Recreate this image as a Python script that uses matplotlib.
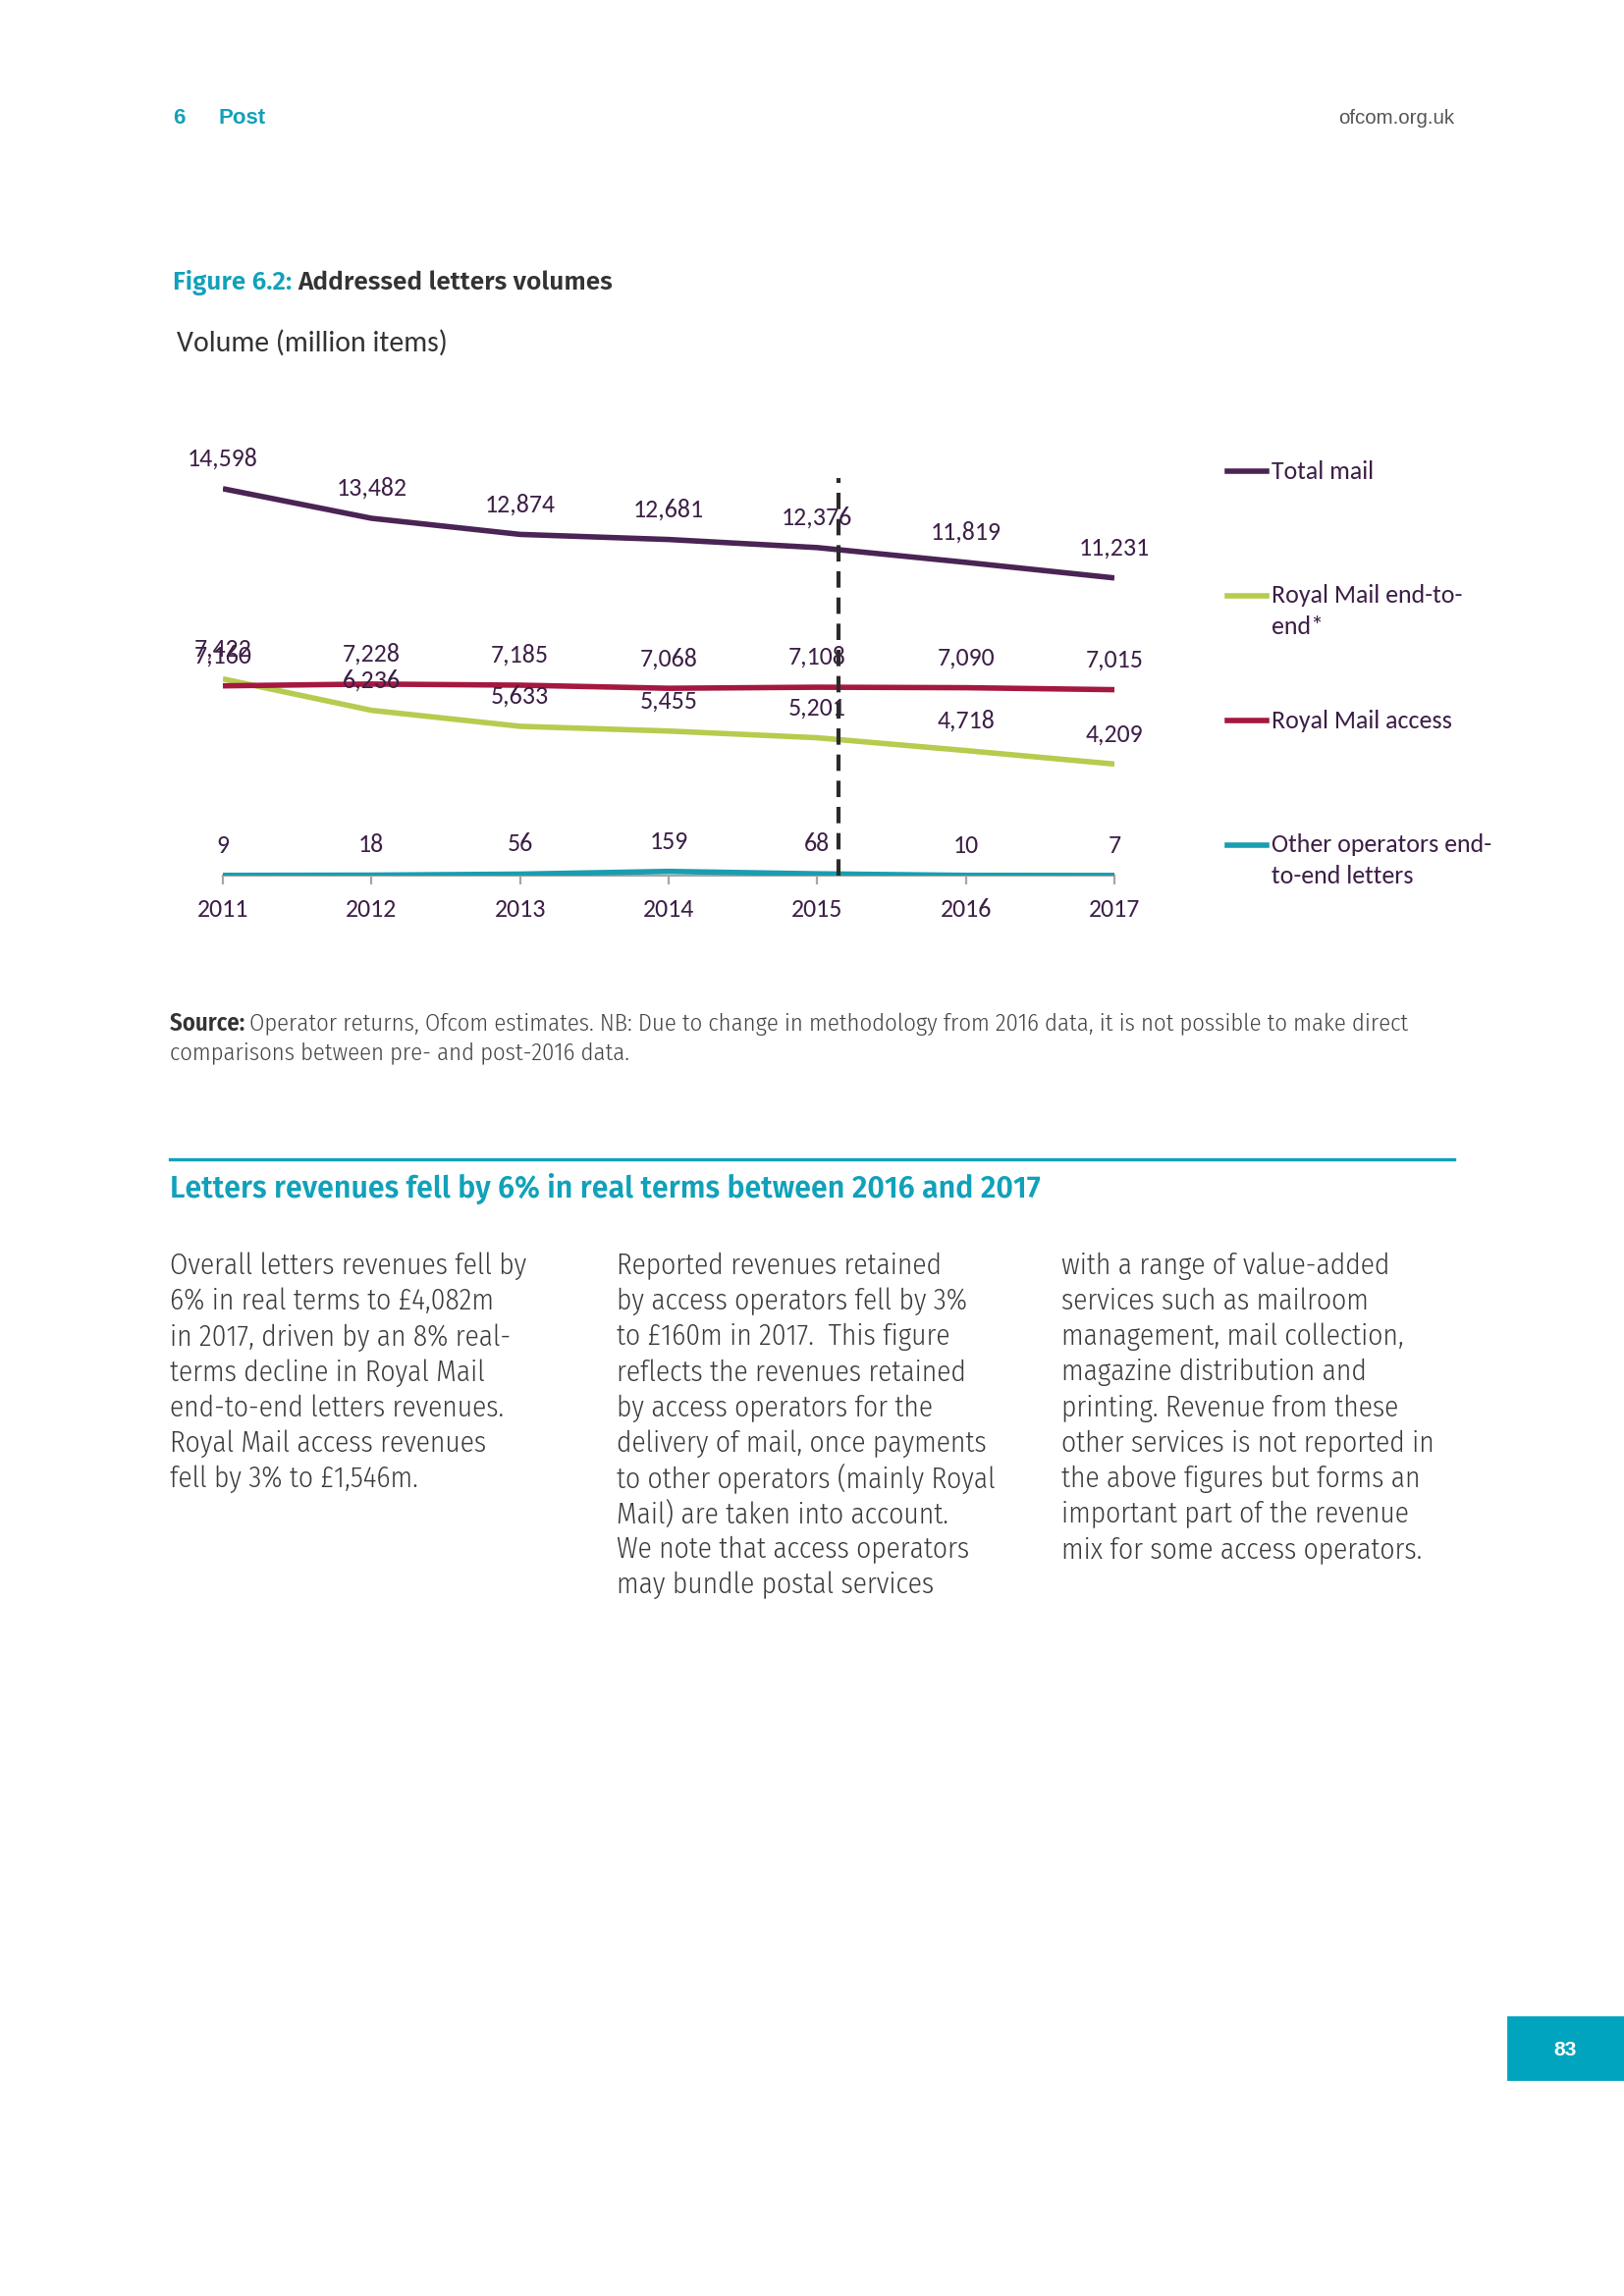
import matplotlib
matplotlib.use("Agg")
import matplotlib.pyplot as plt
from matplotlib.lines import Line2D

W, H = 1654, 2339
DPI = 200

years = [2011, 2012, 2013, 2014, 2015, 2016, 2017]
total_mail = [14598, 13482, 12874, 12681, 12376, 11819, 11231]
rm_end_to_end = [7422, 6236, 5633, 5455, 5201, 4718, 4209]
rm_access = [7160, 7228, 7185, 7068, 7108, 7090, 7015]
other_end_to_end = [9, 18, 56, 159, 68, 10, 7]

series_names = [["Total mail"], ["Royal Mail end-to-", "end*"], ["Royal Mail access"],
                ["Other operators end-", "to-end letters"]]
series_colors = ["#4A2454", "#B5CC4E", "#A5183F", "#1A9DB0"]

TEAL = "#11A1BA"
LABEL = "#3C1E46"
CHART_FONT = "Carlito"
BODY_FONT = "Fira Sans Condensed"


def fx(x):
    return x / W


def fy(y):
    return 1 - y / H


fig = plt.figure(figsize=(W / DPI, H / DPI), dpi=DPI)
renderer = fig.canvas.get_renderer()


def width_px(artists):
    boxes = [a.get_window_extent(renderer) for a in artists]
    return max(b.x1 for b in boxes) - min(b.x0 for b in boxes)


def fit(artists, target):
    # scale font so the text run spans the same width as in the reference
    k = target / width_px(artists)
    for a in artists:
        a.set_fontsize(a.get_fontsize() * k)
    return k


def chain(a, b, gap=0):
    b.set_x((a.get_window_extent(renderer).x1 + gap) / W)


# page header
fig.text(fx(176), fy(120), "6", color=TEAL, fontsize=8, fontweight="bold",
         family="Liberation Sans", va="center")
fig.text(fx(222), fy(120), "Post", color=TEAL, fontsize=8, fontweight="bold",
         family="Liberation Sans", va="center")
fig.text(fx(1481), fy(120), "ofcom.org.uk", color="#555555", fontsize=7.4,
         family="Liberation Sans", va="center", ha="right")

# figure title
t1 = fig.text(fx(176), fy(288), "Figure 6.2: ", color=TEAL, fontsize=9,
              fontweight=600, family="Fira Sans", va="center")
t2 = fig.text(fx(176), fy(288), "Addressed letters volumes", color="#333333",
              fontsize=9, fontweight=600, family="Fira Sans", va="center")
chain(t1, t2)
fit([t1, t2], 449)
chain(t1, t2)

v = fig.text(fx(180), fy(349), "Volume (million items)", color="#333333",
             fontsize=10, family=CHART_FONT, va="center")
fit([v], 276)

# chart
ymax = 16000
y0_px, per1000 = 892, 27.0
top_px = y0_px - ymax / 1000 * per1000
ax = fig.add_axes([fx(227), fy(y0_px), (1135 - 227) / W, (y0_px - top_px) / H])

for vals, col in [(total_mail, series_colors[0]), (rm_end_to_end, series_colors[1]),
                  (rm_access, series_colors[2]), (other_end_to_end, series_colors[3])]:
    ax.plot(years, vals, color=col, lw=2.0, solid_capstyle="butt", zorder=3)
    for x, val in zip(years, vals):
        ax.annotate(f"{val:,}", (x, val), xytext=(0, 11), textcoords="offset points",
                    ha="center", va="center", fontsize=9.3, color=LABEL,
                    family=CHART_FONT, annotation_clip=False, zorder=4)

# methodology break between 2015 and 2016
ax.vlines(2015.14, 0, 15000, colors="#2B2B2B", linestyles=(0, (4.0, 2.4)),
          lw=1.5, zorder=5)

ax.set_xlim(2011, 2017)
ax.set_ylim(0, ymax)
for s in ["top", "right", "left"]:
    ax.spines[s].set_visible(False)
ax.spines["bottom"].set_color("#A6A6A6")
ax.spines["bottom"].set_linewidth(0.8)
ax.set_yticks([])
ax.set_xticks(years)
ax.set_xticklabels([str(y) for y in years], fontsize=9.3, color=LABEL,
                   family=CHART_FONT)
ax.tick_params(axis="x", length=3.2, width=0.8, color="#A6A6A6", pad=5)
ax.patch.set_alpha(0)

# legend
leg_rows = [480, 607, 734, 861]
for lines, col, yy in zip(series_names, series_colors, leg_rows):
    fig.add_artist(Line2D([fx(1250), fx(1290)], [fy(yy), fy(yy)], color=col,
                          lw=2.0, transform=fig.transFigure))
    for i, line in enumerate(lines):
        fig.text(fx(1295), fy(yy + i * 31), line, color=LABEL, fontsize=9.3,
                 family=CHART_FONT, va="center", ha="left")

# source note
s1 = fig.text(fx(173), fy(1043), "Source: ", color="#333333", fontsize=8,
              fontweight=600, family=BODY_FONT, va="center")
s2 = fig.text(fx(173), fy(1043),
              "Operator returns, Ofcom estimates. NB: Due to change in methodology from 2016 data, "
              "it is not possible to make direct", color="#444444", fontsize=8,
              fontweight=300, family=BODY_FONT, va="center")
s3 = fig.text(fx(173), fy(1072), "comparisons between pre- and post-2016 data.",
              color="#444444", fontsize=8, fontweight=300, family=BODY_FONT, va="center")
chain(s1, s2)
k = fit([s1, s2], 1263)
s3.set_fontsize(8 * k)
chain(s1, s2)

# section rule + heading
fig.add_artist(Line2D([fx(173), fx(1481)], [fy(1181), fy(1181)], color=TEAL, lw=1.2,
                      transform=fig.transFigure))
hd = fig.text(fx(173), fy(1211),
              "Letters revenues fell by 6% in real terms between 2016 and 2017",
              color=TEAL, fontsize=10, fontweight=600, family="Fira Sans", va="center")
fit([hd], 887)

col1 = ["Overall letters revenues fell by", "6% in real terms to £4,082m",
        "in 2017, driven by an 8% real-", "terms decline in Royal Mail",
        "end-to-end letters revenues.", "Royal Mail access revenues",
        "fell by 3% to £1,546m."]
col2 = ["Reported revenues retained", "by access operators fell by 3%",
        "to £160m in 2017.  This figure", "reflects the revenues retained",
        "by access operators for the", "delivery of mail, once payments",
        "to other operators (mainly Royal", "Mail) are taken into account.",
        "We note that access operators", "may bundle postal services"]
col3 = ["with a range of value-added", "services such as mailroom",
        "management, mail collection,", "magazine distribution and",
        "printing. Revenue from these", "other services is not reported in",
        "the above figures but forms an", "important part of the revenue",
        "mix for some access operators."]
body = []
for x0, lines in [(173, col1), (628, col2), (1081, col3)]:
    for i, line in enumerate(lines):
        body.append(fig.text(fx(x0), fy(1290 + i * 36.1), line, color="#3A3A3A",
                             fontsize=10, fontweight=300, family=BODY_FONT,
                             va="center"))
k = 365 / width_px([body[0]])
for b in body:
    b.set_fontsize(10 * k)

# page number box
fig.patches.append(plt.Rectangle((fx(1536), fy(2118)), (1654 - 1536) / W, 63 / H,
                                 color="#00A4BE", transform=fig.transFigure))
fig.text(fx(1594), fy(2088), "83", color="white", fontsize=7.6, fontweight="bold",
         family="Liberation Sans", ha="center", va="center")

fig.savefig("out.png", dpi=DPI)
